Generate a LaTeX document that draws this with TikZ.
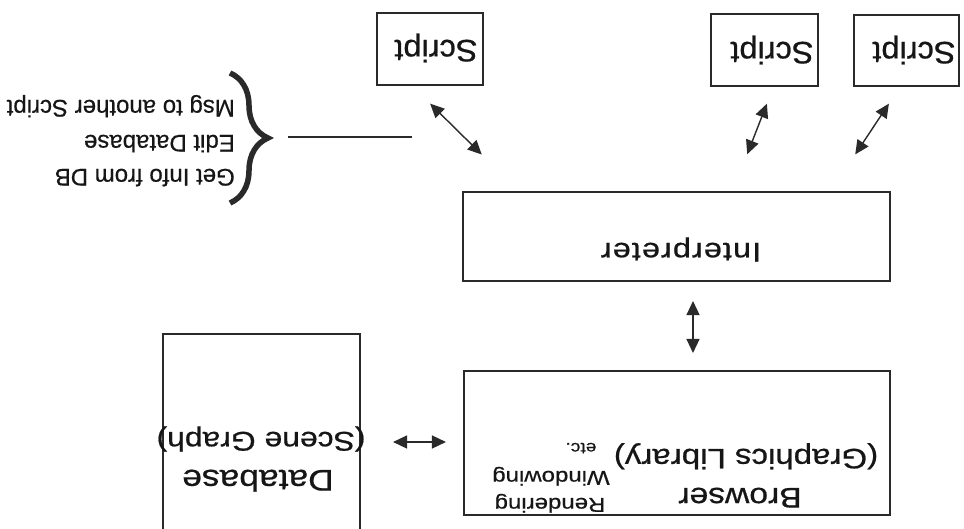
\documentclass[tikz,border=0pt]{standalone}
\usepackage{fontspec}
\setmainfont[FakeBold=0.5]{Liberation Sans}
\newfontfamily\bigf[FakeStretch=1.18,FakeBold=0.7]{Liberation Sans}
\newfontfamily\scrf[FakeStretch=1.05,FakeBold=0.7]{Liberation Sans}
\newfontfamily\intf[FakeStretch=1.2,LetterSpace=4,FakeBold=0.7]{Liberation Sans}
\newfontfamily\smf[FakeStretch=1.2,FakeBold=0.5]{Liberation Sans}
\usetikzlibrary{arrows.meta,decorations.pathreplacing}
\definecolor{ink}{HTML}{161616}
\definecolor{edge}{HTML}{2A2A2A}
\begin{document}
\begin{tikzpicture}[x=1pt,y=-1pt,
  box/.style={draw=edge,line width=1.5pt,rectangle,inner sep=0pt},
  lbl/.style={rotate=180,inner sep=0pt,text=ink,anchor=base},
  lblw/.style={rotate=180,inner sep=0pt,text=ink,anchor=base west,font=\fontsize{24}{29}\selectfont},
  biarrow/.style={draw=edge,line width=1.4pt,{Triangle[length=14pt,width=13pt]}-{Triangle[length=14pt,width=13pt]}},
  bracestyle/.style={draw=edge,line width=5.5pt,decorate,decoration={brace,amplitude=38pt}},
]
\useasboundingbox (0,0) rectangle (964,529);
\clip (0,0) rectangle (964,529);
\fill[white] (0,0) rectangle (964,529);

% boxes
\node[box,minimum width=106pt,minimum height=72pt] (s1) at (430,49) {};
\node[box,minimum width=107pt,minimum height=72pt] (s2) at (764.5,50) {};
\node[box,minimum width=105pt,minimum height=71pt] (s3) at (906.5,50.5) {};
\node[box,minimum width=427pt,minimum height=89pt] (interp) at (676.5,236.5) {};
\node[box,minimum width=426pt,minimum height=144pt] (browser) at (677,443) {};
\node[box,minimum width=197pt,minimum height=211pt] (db) at (261.5,439.5) {};

% labels (upside down, as in the reference)
\node[lbl,font=\scrf\fontsize{31}{36}\selectfont] (t1) at (436,40) {Script};
\node[lbl,font=\scrf\fontsize{31}{36}\selectfont] (t2) at (772,42) {Script};
\node[lbl,font=\scrf\fontsize{31}{36}\selectfont] (t3) at (914,42) {Script};
\node[lbl,font=\intf\fontsize{27}{32}\selectfont] (ti) at (681,243) {Interpreter};
\node[lbl,font=\bigf\fontsize{28.5}{34}\selectfont] (tb) at (740,488) {Browser};
\node[lbl,font=\bigf\fontsize{28}{34}\selectfont] (tg) at (746,449) {(Graphics Library)};
\node[lbl,font=\smf\fontsize{20}{24}\selectfont] (tr) at (550,498) {Rendering};
\node[lbl,font=\smf\fontsize{20}{24}\selectfont] (tw) at (551,471) {Windowing};
\node[lbl,font=\smf\fontsize{16}{19}\selectfont] (te) at (581,443) {etc.};
\node[lbl,font=\bigf\fontsize{30}{36}\selectfont] (td) at (258,470) {Database};
\node[lbl,font=\bigf\fontsize{27}{34}\selectfont] (ts) at (261,432) {(Scene Graph)};

\node[lblw] (m1) at (235,100) {Msg to another Script};
\node[lblw] (m2) at (235,135) {Edit Database};
\node[lblw] (m3) at (235,169) {Get Info from DB};

% brace and its line
\draw[bracestyle] (230,73) -- (230,203);
\coordinate (bt) at (268,137);
\coordinate (le) at (412,137);
\draw[edge,line width=1.4pt,shorten <=20pt] (bt) -- (le);

% connectors
\draw[biarrow,shorten <=19.3pt,shorten >=17.3pt] ([xshift=16.5pt]interp.south) -- ([xshift=16pt]browser.north);
\draw[biarrow,shorten <=32.3pt,shorten >=17.3pt] ([yshift=-2.5pt]db.east) -- ([yshift=1pt]browser.west);
\draw[biarrow,shorten <=25.5pt,shorten >=52.3pt] ([xshift=-18pt]s1.south) -- ([xshift=-157.5pt]interp.north);
\draw[biarrow,shorten <=18.2pt,shorten >=39.7pt] ([xshift=9pt]s2.south) -- ([xshift=56.3pt]interp.north);
\draw[biarrow,shorten <=20.3pt,shorten >=44.2pt] ([xshift=-6.4pt]s3.south) -- ([xshift=154.3pt]interp.north);
\end{tikzpicture}
\end{document}
